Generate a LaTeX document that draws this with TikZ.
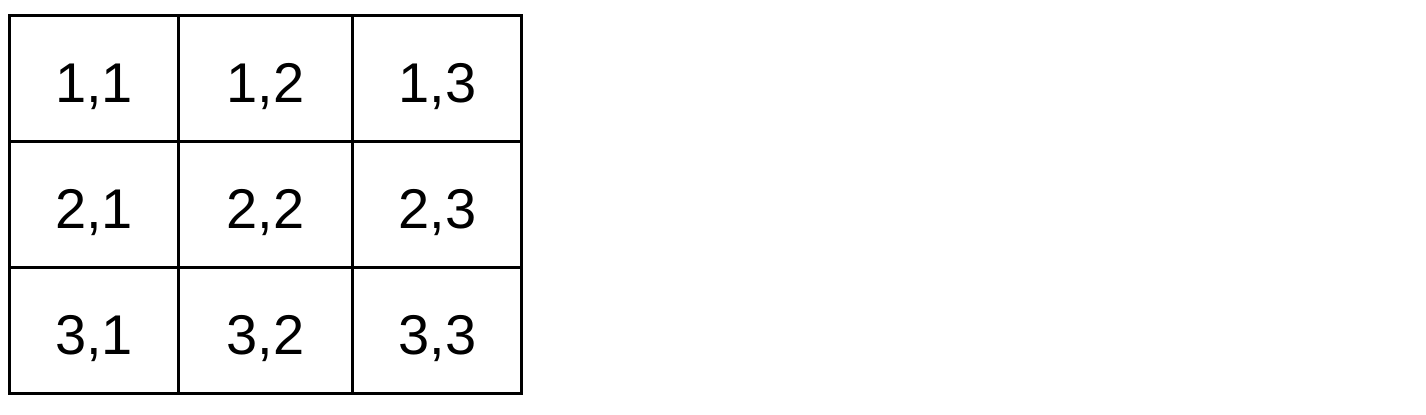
\documentclass[tikz,border=0pt]{standalone}
\usepackage{fontspec}
\setmainfont{Liberation Sans}
\usepackage{tikz}

\tikzset{
  cell/.style={draw, line width=1.5pt, inner sep=0pt, outer sep=0pt,
    minimum height=63pt, text height=24pt, text depth=0pt,
    font=\fontsize{28}{34}\selectfont},
  narrow/.style={cell, minimum width=84.6pt},
  wide/.style={cell, minimum width=87pt}
}

\begin{document}
\begin{tikzpicture}[x=0.5pt, y=-0.5pt]
\useasboundingbox (0,0) rectangle (1426,414);
\path (94,78.5) node[narrow] (c11) {1,1}
		(265.5,78.5) node[wide] (c12) {1,2}
		(437.25,78.5) node[narrow] (c13) {1,3}
		(94,204.5) node[narrow] (c21) {2,1}
		(265.5,204.5) node[wide] (c22) {2,2}
		(437.25,204.5) node[narrow] (c23) {2,3}
		(94,330) node[narrow] (c31) {3,1}
		(265.5,330) node[wide] (c32) {3,2}
		(437.25,330) node[narrow] (c33) {3,3}
		;
\end{tikzpicture}
\end{document}
